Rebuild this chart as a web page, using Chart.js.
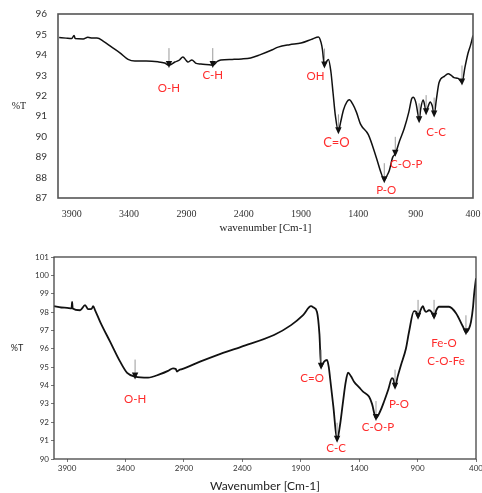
<!DOCTYPE html>
<html>
<head>
<meta charset="utf-8">
<script src="https://cdn.jsdelivr.net/npm/chart.js@4.4.0/dist/chart.umd.min.js"></script>
<style>
  body { margin: 0; background: #fff; width: 482px; height: 493px; position: relative; overflow: hidden; }
  canvas { position: absolute; left: 0; }
  #topChart { top: 0; }
  #botChart { top: 240px; }
</style>
</head>
<body>
<canvas id="topChart" width="482" height="240"></canvas>
<canvas id="botChart" width="482" height="253"></canvas>
<script>
// --- data ---
const xTicks = [400, 900, 1400, 1900, 2400, 2900, 3400, 3900];

const topWn = [4010, 3950, 3900, 3880, 3870, 3800, 3760, 3720, 3680, 3620, 3557, 3480, 3409, 3350, 3250, 3148, 3090, 3052, 3000, 2960,
  2931, 2900, 2887, 2852, 2820, 2774, 2700, 2670, 2630, 2600, 2500, 2417, 2340, 2260, 2150, 2100, 2000, 1900, 1800, 1748,
  1725, 1713, 1696, 1675, 1661, 1640, 1620, 1600, 1574, 1555, 1530, 1500, 1478, 1450, 1417, 1380, 1313, 1243, 1200, 1174,
  1150, 1130, 1100, 1078, 1040, 1000, 960, 935, 922, 900, 880, 870, 855, 835, 820, 809, 790, 774, 755, 739,
  720, 696, 650, 617, 590, 565, 530, 496, 470, 443, 420, 400];
const topT = [94.85, 94.82, 94.8, 94.95, 94.8, 94.78, 94.86, 94.82, 94.82, 94.65, 94.4, 94.1, 93.78, 93.7, 93.7, 93.66, 93.6, 93.5, 93.65, 93.75,
  93.9, 93.72, 93.65, 93.75, 93.6, 93.55, 93.52, 93.5, 93.68, 93.75, 93.78, 93.8, 93.85, 94.0, 94.25, 94.38, 94.5, 94.58, 94.78, 94.88,
  94.6, 94.25, 93.48, 93.7, 93.78, 93.2, 92.1, 91.0, 90.26, 90.7, 91.3, 91.7, 91.8, 91.6, 91.2, 90.6, 90.1, 88.97, 88.2, 87.87,
  88.1, 88.35, 89.0, 89.16, 89.8, 90.4, 91.2, 91.85, 91.93, 91.7, 91.1, 90.8, 91.4, 91.79, 91.5, 91.2, 91.5, 91.7, 91.5, 91.08,
  91.8, 92.65, 92.95, 93.08, 93.0, 92.89, 92.85, 92.65, 93.4, 94.09, 94.5, 94.95];

const botWn = [4011, 3950, 3900, 3862, 3857, 3852, 3789, 3746, 3720, 3690, 3677, 3660, 3617, 3532, 3446, 3386, 3318, 3207, 3104, 3036,
  2993, 2970, 2959, 2940, 2916, 2762, 2616, 2411, 2129, 1983, 1880, 1812, 1790, 1761, 1740, 1726, 1700, 1675, 1660, 1649,
  1620, 1589, 1565, 1538, 1515, 1495, 1470, 1444, 1400, 1367, 1316, 1290, 1256, 1220, 1187, 1150, 1119, 1105, 1093, 1070,
  1042, 1000, 973, 931, 910, 896, 875, 854, 840, 828, 802, 780, 759, 740, 717, 631, 571, 511, 486, 460,
  443, 425, 417, 400];
const botT = [98.32, 98.25, 98.23, 98.2, 98.55, 98.2, 98.1, 98.38, 98.16, 98.18, 98.32, 98.1, 97.47, 96.39, 95.3, 94.69, 94.49, 94.43, 94.62, 94.8,
  94.94, 94.9, 94.76, 94.85, 94.89, 95.3, 95.66, 96.11, 96.75, 97.29, 97.83, 98.32, 98.25, 98.01, 96.8, 95.03, 95.3, 95.39, 95.0, 94.41,
  92.8, 91.05, 91.8, 93.13, 94.2, 94.7, 94.5, 94.21, 93.9, 93.67, 93.4, 93.0, 92.23, 92.6, 93.13, 93.8, 94.4, 94.3, 93.94, 94.5,
  95.12, 96.0, 96.93, 98.05, 98.0, 97.74, 98.1, 98.32, 98.1, 98.01, 98.1, 98.0, 97.74, 98.1, 98.29, 98.29, 97.94, 97.2, 96.9, 97.1,
  97.47, 98.3, 98.92, 99.84];

// arrow positions (wavenumber) and band labels [text, wavenumber, %T]
const topArrows = [3052, 2670, 1696, 1574, 1174, 1078, 870, 809, 739, 496];
const topLabels = [['O-H', 3052, 92.37], ['C-H', 2670, 92.99], ['OH', 1774, 92.94], ['C=O', 1591, 89.69],
  ['P-O', 1157, 87.4], ['C-O-P', 983, 88.64], ['C-C', 722, 90.22]];
const botArrows = [3318, 1726, 1589, 1256, 1093, 896, 759, 486];
const botLabels = [['O-H', 3318, 93.27], ['C=O', 1803, 94.41], ['C-C', 1598, 90.61], ['C-O-P', 1239, 91.7],
  ['P-O', 1059, 93.0], ['Fe-O', 674, 96.32], ['C-O-Fe', 657, 95.34]];

function interp(wn, T, w) {
  for (let i = 0; i < wn.length - 1; i++) {
    if (w <= wn[i] && w >= wn[i + 1]) {
      const f = (wn[i] - w) / (wn[i] - wn[i + 1]);
      return T[i] + f * (T[i + 1] - T[i]);
    }
  }
  return T[T.length - 1];
}

function makeChart(id, o) {
  const overlay = {
    id: 'overlay',
    afterDatasetsDraw(chart) {
      const { ctx, chartArea: a, scales: { x, y } } = chart;
      ctx.save();
      // frame
      ctx.strokeStyle = o.frameColor;
      ctx.lineWidth = o.frameWidth;
      ctx.strokeRect(a.left, a.top, a.right - a.left, a.bottom - a.top);
      // arrows
      o.arrows.forEach(w => {
        const px = x.getPixelForValue(w);
        const py = y.getPixelForValue(interp(o.wn, o.T, w));
        ctx.strokeStyle = '#9a9a9a';
        ctx.lineWidth = 1;
        ctx.beginPath();
        ctx.moveTo(px, py - 17); ctx.lineTo(px, py - 4);
        ctx.stroke();
        ctx.fillStyle = '#111';
        ctx.beginPath();
        ctx.moveTo(px - 3.2, py - 4); ctx.lineTo(px + 3.2, py - 4); ctx.lineTo(px, py + 3);
        ctx.closePath(); ctx.fill();
      });
      // band labels
      ctx.fillStyle = '#ff2b2b';
      ctx.textAlign = 'center';
      ctx.textBaseline = 'middle';
      o.labels.forEach(([t, w, v]) => {
        ctx.font = (t === 'C=O' && o.bigCO ? '13px' : '11.5px') + ' Lato';
        ctx.fillText(t, x.getPixelForValue(w), y.getPixelForValue(v));
      });
      // %T, written horizontally
      ctx.fillStyle = '#222';
      ctx.font = o.yTitleFont;
      ctx.fillText('%T', o.yTitlePos[0], o.yTitlePos[1]);
      ctx.restore();
    }
  };

  return new Chart(document.getElementById(id), {
    type: 'line',
    data: {
      datasets: [{
        data: o.wn.map((w, i) => ({ x: w, y: o.T[i] })),
        borderColor: '#111',
        borderWidth: o.lineWidth,
        pointRadius: 0,
        cubicInterpolationMode: 'monotone',
        fill: false
      }]
    },
    options: {
      responsive: false,
      animation: false,
      layout: { padding: o.padding },
      plugins: { legend: { display: false }, tooltip: { enabled: false } },
      scales: {
        x: {
          type: 'linear',
          reverse: true,
          min: 400,
          max: o.xMax,
          afterBuildTicks: s => { s.ticks = xTicks.map(v => ({ value: v })); },
          afterFit: s => { s.height = o.xHeight; },
          grid: { display: o.tickMarks, drawOnChartArea: false, tickLength: 3, color: '#777' },
          border: { display: false },
          ticks: {
            autoSkip: false, maxRotation: 0, padding: o.xTickPad,
            color: '#333', font: o.xTickFont,
            callback: v => String(v)
          },
          title: { display: true, text: o.xTitle, color: '#222', font: o.xTitleFont, padding: { top: 0, bottom: o.xTitleBottom } }
        },
        y: {
          min: o.yMin,
          max: o.yMax,
          afterFit: s => { s.width = o.yWidth; },
          grid: { display: o.tickMarks, drawOnChartArea: false, tickLength: 3, color: '#777' },
          border: { display: false },
          ticks: { stepSize: 1, padding: o.yTickPad, color: '#333', font: o.yTickFont, callback: v => String(v) }
        }
      }
    },
    plugins: [overlay]
  });
}

makeChart('topChart', {
  wn: topWn, T: topT, arrows: topArrows, labels: topLabels, bigCO: true,
  xMax: 4020, yMin: 87, yMax: 96,
  padding: { top: 10, right: 9, left: 0, bottom: 0 },
  xHeight: 42, yWidth: 58, xTickPad: 7, yTickPad: 8, tickMarks: false,
  xTickFont: { family: 'Liberation Serif', size: 10 },
  yTickFont: { family: 'Lato', size: 10 },
  xTitle: 'wavenumber [Cm-1]', xTitleFont: { family: 'Liberation Serif', size: 11 }, xTitleBottom: 5,
  yTitleFont: '10px Liberation Serif', yTitlePos: [19, 106],
  frameColor: '#555', frameWidth: 1.6, lineWidth: 1.5
});

makeChart('botChart', {
  wn: botWn, T: botT, arrows: botArrows, labels: botLabels, bigCO: false,
  xMax: 4012, yMin: 90, yMax: 101,
  padding: { top: 17, right: 6, left: 0, bottom: 0 },
  xHeight: 34, yWidth: 54, xTickPad: 2, yTickPad: 2, tickMarks: true,
  xTickFont: { family: 'Lato', size: 8 },
  yTickFont: { family: 'Lato', size: 8 },
  xTitle: 'Wavenumber [Cm-1]', xTitleFont: { family: 'Lato', size: 12 }, xTitleBottom: 0,
  yTitleFont: '9px Lato', yTitlePos: [17, 108],
  frameColor: '#444', frameWidth: 1.3, lineWidth: 1.8
});
</script>
</body>
</html>
